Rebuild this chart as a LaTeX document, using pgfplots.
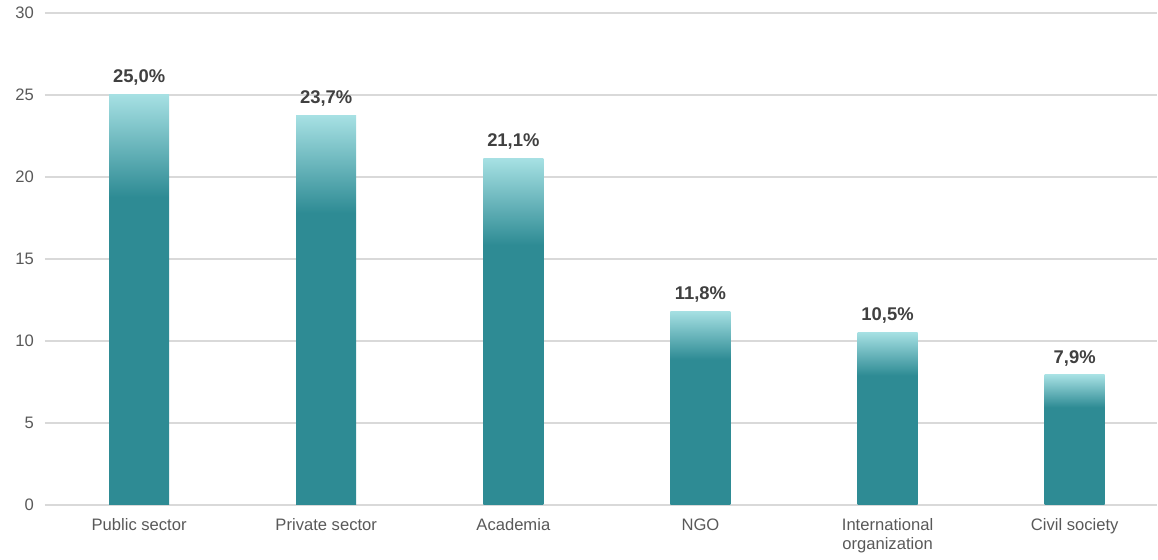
\documentclass[border=0pt]{standalone}
\usepackage{fontspec}
\setmainfont{Liberation Sans}
\usepackage{pgfplots}
\usepackage{pgfplotstable}
\pgfplotsset{compat=1.18}
\definecolor{tealdark}{HTML}{2E8B94}
\definecolor{teallight}{HTML}{A6E0E3}
\definecolor{gridgray}{HTML}{D9D9D9}
\definecolor{ticktext}{HTML}{595959}
\definecolor{labeltext}{HTML}{404040}
\pgfdeclareverticalshading{barshade}{100bp}{color(0bp)=(tealdark); color(62.5bp)=(tealdark); color(75bp)=(teallight); color(100bp)=(teallight)}
\pgfplotstableread{
x y
0 25.0
}\tA
\pgfplotstableread{
x y
1 23.7
}\tB
\pgfplotstableread{
x y
2 21.1
}\tC
\pgfplotstableread{
x y
3 11.8
}\tD
\pgfplotstableread{
x y
4 10.5
}\tE
\pgfplotstableread{
x y
5 7.9
}\tF
\begin{document}
\begin{tikzpicture}
\begin{axis}[
  name=main,
  scale only axis,
  width=556pt, height=246pt,
  xmin=-0.503, xmax=5.44,
  ymin=0, ymax=30,
  ytick={0,5,...,30},
  xtick={0,...,5},
  xticklabels={Public sector,Private sector,Academia,NGO,International\\organization,Civil society},
  axis line style={draw=none},
  major tick length=0pt,
  ymajorgrids,
  grid style={gridgray, line width=1pt},
  no markers,
  /pgf/number format/assume math mode=true,
  yticklabel style={font=\fontsize{8.3}{10}\selectfont, text=ticktext, anchor=east, xshift=-2pt},
  xticklabel style={font=\fontsize{8.3}{9.5}\selectfont, text=ticktext, align=center, anchor=north, yshift=-3.5pt},
  nodes near coords={\pgfmathprintnumber[use comma,fixed,fixed zerofill,precision=1]{\pgfplotspointmeta}\%},
  nodes near coords style={font=\bfseries\fontsize{9.2}{11}\selectfont, text=labeltext, anchor=south, yshift=1pt},
  point meta=explicit,
  every axis plot/.append style={ybar, bar width=30pt, bar shift=0pt, draw=none, shading=barshade},
]
\addplot table[x=x, y=y, meta=y] {\tA};
\addplot table[x=x, y=y, meta=y] {\tB};
\addplot table[x=x, y=y, meta=y] {\tC};
\addplot table[x=x, y=y, meta=y] {\tD};
\addplot table[x=x, y=y, meta=y] {\tE};
\addplot table[x=x, y=y, meta=y] {\tF};
\end{axis}
\path (main.south west) ++(-22.5pt,0pt) coordinate (padL);
\path (padL) -- (main.south west);
\end{tikzpicture}
\end{document}
